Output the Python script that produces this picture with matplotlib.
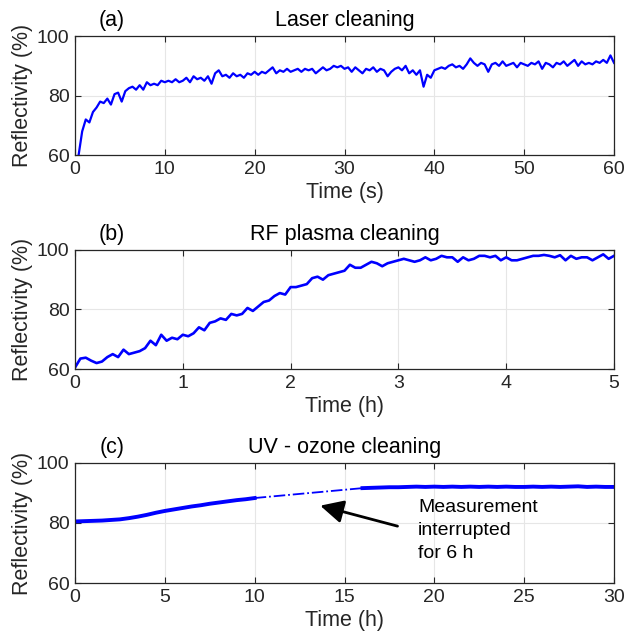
import numpy as np
import matplotlib
matplotlib.use("Agg")
import matplotlib.pyplot as plt

plt.rcParams['font.family'] = ['Liberation Sans', 'DejaVu Sans']
plt.rcParams['font.size'] = 14

# (a) Laser cleaning, samples every 0.4 s from 0.4 s to 60 s
laser_refl = [
    60, 68, 72, 71, 74.5, 76, 78, 77.5, 79, 77, 80.5, 81, 78, 81.5, 82.5, 83, 82, 83.5, 82, 84.5, 83.5, 84, 83.5, 85, 84.5,
    85, 84.5, 85.5, 84.5, 85, 86, 84.5, 86.5, 85.5, 86, 85, 86.5, 84, 87.5, 88.5, 86.5, 87, 86, 87.5, 86.5, 87, 86, 87.5, 87, 88,
    87, 88, 87.5, 88.5, 89.5, 87.5, 88.5, 88, 89, 88, 88.5, 89, 88, 89, 88.5, 89, 87.5, 88.5, 89.5, 88.5, 89, 90, 89.5, 90, 89,
    89.5, 88, 89.5, 88.5, 87.5, 89, 88.5, 89.5, 88, 89, 88.5, 86.5, 88, 89, 89.5, 88.5, 90, 87.5, 88.5, 87, 88.5, 83, 87, 86, 88.5,
    89, 89.5, 89, 90, 90.5, 89.5, 90, 89, 90.5, 92.5, 91, 90, 91, 90.5, 88, 90.5, 91, 90, 91.5, 90, 90.5, 91, 89.5, 91, 90.5,
    90, 91, 90.5, 91.5, 89, 91, 90.5, 89.5, 91, 90.5, 91.5, 90, 91, 92, 90, 91.5, 90.5, 91, 90.5, 91.5, 91, 92, 91, 93.5, 91,
]
laser_t = np.linspace(0.4, 60, len(laser_refl))

# (b) RF plasma cleaning, samples every 0.05 h from 0 to 5 h
rf_refl = [
    60.5, 63.5, 63.8, 62.8, 62.0, 62.5, 64.0, 65.0, 64.0, 66.5, 65.0, 65.5, 66.0, 67.0, 69.5, 68.0, 71.5, 69.5, 70.5, 70.0,
    71.5, 71.0, 72.0, 74.0, 73.0, 75.5, 76.0, 77.0, 76.5, 78.5, 78.0, 78.5, 80.5, 79.5, 81.0, 82.5, 83.0, 84.5, 85.5, 85.0,
    87.5, 87.5, 88.0, 88.5, 90.5, 91.0, 90.0, 91.5, 92.0, 92.5, 93.0, 95.0, 94.0, 94.0, 95.0, 96.0, 95.5, 94.5, 95.5, 96.0,
    96.5, 97.0, 96.5, 96.0, 96.5, 97.5, 96.5, 97.0, 98.0, 97.5, 97.5, 96.0, 97.5, 96.5, 97.0, 98.0, 98.0, 97.5, 98.0, 96.5,
    97.5, 96.5, 96.5, 97.0, 97.5, 98.0, 98.0, 98.3, 98.0, 97.5, 98.2, 96.5, 98.0, 97.0, 97.5, 97.5, 96.5, 97.5, 98.5, 97.0,
    98.0,
]
rf_t = np.linspace(0, 5, len(rf_refl))

# (c) UV - ozone cleaning, samples every 0.5 h, gap from 10 h to 16 h
uv1_refl = [80.5, 80.6, 80.7, 80.8, 81.0, 81.2, 81.6, 82.1, 82.7, 83.4, 84.0, 84.5, 85.0, 85.5, 85.9,
            86.4, 86.8, 87.2, 87.6, 87.9, 88.3]
uv1_t = np.linspace(0, 10, len(uv1_refl))
gap_t = [10, 16]
gap_refl = [88.3, 91.6]
uv2_refl = [91.6, 91.7, 91.8, 91.9, 91.9, 92.0, 92.1, 92.0, 92.1, 92.0, 92.1, 92.0, 92.1, 92.0, 92.1,
            92.0, 92.1, 92.0, 92.0, 92.1, 92.0, 92.1, 92.0, 92.1, 92.2, 92.0, 92.1, 92.0, 92.0]
uv2_t = np.linspace(16, 30, len(uv2_refl))

fig = plt.figure(figsize=(6.27, 6.44), dpi=100)
left, width = 0.1196, 0.8597
ax_a = fig.add_axes([left, 0.759, width, 0.185])
ax_b = fig.add_axes([left, 0.427, width, 0.185])
ax_c = fig.add_axes([left, 0.0947, width, 0.1865])

blue = '#0000ff'


def style(ax, xmax, xticks, xlabel, title, tag):
    ax.set_xlim(0, xmax)
    ax.set_ylim(60, 100)
    ax.set_xticks(xticks)
    ax.set_yticks([60, 80, 100])
    ax.grid(True, color='#e6e6e6', linewidth=0.8)
    ax.set_axisbelow(True)
    ax.tick_params(direction='in', top=True, right=True, length=4, color='#262626',
                   labelcolor='#262626', labelsize=14, pad=4)
    for s in ax.spines.values():
        s.set_color('#262626')
        s.set_linewidth(0.9)
    ax.set_xlabel(xlabel, color='#262626', labelpad=3, fontsize=15.5)
    ax.set_ylabel('Reflectivity (%)', color='#262626', labelpad=3, fontsize=15.5)
    ax.set_title(title, color='black', pad=7, fontsize=15.5)
    ax.text(0.069, 1.04, tag, transform=ax.transAxes, ha='center', va='bottom', fontsize=15.5)


ax_a.plot(laser_t, laser_refl, color=blue, linewidth=1.6)
style(ax_a, 60, [0, 10, 20, 30, 40, 50, 60], 'Time (s)', 'Laser cleaning', '(a)')

ax_b.plot(rf_t, rf_refl, color=blue, linewidth=1.9)
style(ax_b, 5, [0, 1, 2, 3, 4, 5], 'Time (h)', 'RF plasma cleaning', '(b)')

ax_c.plot(uv1_t, uv1_refl, color=blue, linewidth=2.8)
ax_c.plot(gap_t, gap_refl, color=blue, linewidth=1.3, linestyle='-.')
ax_c.plot(uv2_t, uv2_refl, color=blue, linewidth=2.8)
style(ax_c, 30, [0, 5, 10, 15, 20, 25, 30], 'Time (h)', 'UV - ozone cleaning', '(c)')
ax_c.annotate('', xy=(13.5, 86.0), xytext=(18.1, 78.7),
              arrowprops=dict(arrowstyle='-|>,head_length=1.0,head_width=0.5', color='black', lw=2))
ax_c.text(19.1, 88.0, 'Measurement\ninterrupted\nfor 6 h', ha='left', va='top', linespacing=1.45, fontsize=14)

fig.savefig('out.png', dpi=100)
